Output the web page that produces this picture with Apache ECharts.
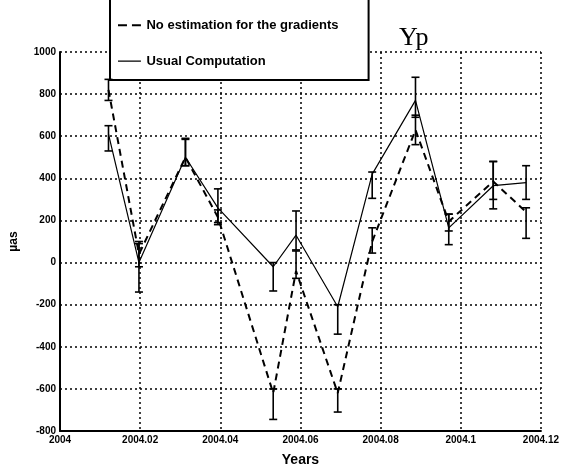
<!DOCTYPE html>
<html>
<head>
<meta charset="utf-8">
<script src="https://cdn.jsdelivr.net/npm/echarts@6/dist/echarts.min.js"></script>
<style>
html,body{margin:0;padding:0;background:#fff;}
#chart{width:562px;height:472px;}
</style>
</head>
<body>
<div id="chart"></div>
<script>
// Epochs (years)
const years = [2004.0121, 2004.0197, 2004.0313, 2004.0394, 2004.0532, 2004.0589, 2004.0693, 2004.0779, 2004.0887, 2004.0970, 2004.1081, 2004.1163];
// "No estimation for the gradients" (dashed), µas
const noEstValues = [820, 40, 500, 215, -620, -40, -620, 100, 630, 195, 385, 240];
const noEstHigh   = [870, 100, 585, 250, -600, 55, -600, 165, 700, 230, 480, 260];
const noEstLow    = [770, -20, 460, 180, -745, -75, -710, 45, 560, 150, 300, 115];
// "Usual Computation" (solid), µas
const usualValues = [610, 0, 500, 260, -20, 130, -210, 420, 770, 165, 365, 380];
const usualHigh   = [650, 90, 590, 350, 0, 245, -200, 430, 880, 230, 480, 460];
const usualLow    = [530, -140, 460, 190, -135, 60, -340, 305, 690, 85, 255, 300];
// Axis ticks
const yTicks = [-800, -600, -400, -200, 0, 200, 400, 600, 800, 1000];
const xTicks = [2004, 2004.02, 2004.04, 2004.06, 2004.08, 2004.1, 2004.12];

const seriesNames = ['No estimation for the gradients', 'Usual Computation'];

function pairs(vals) { return years.map((t, i) => [t, vals[i]]); }
function bars(lo, hi) { return years.map((t, i) => [t, lo[i], hi[i]]); }

function renderErr(params, api) {
  const t = api.value(0);
  const p1 = api.coord([t, api.value(1)]);
  const p2 = api.coord([t, api.value(2)]);
  const w = 4;
  const style = { stroke: '#000', lineWidth: 1.6 };
  return {
    type: 'group',
    children: [
      { type: 'line', shape: { x1: p1[0], y1: p1[1], x2: p2[0], y2: p2[1] }, style: style },
      { type: 'line', shape: { x1: p1[0] - w, y1: p1[1], x2: p1[0] + w, y2: p1[1] }, style: style },
      { type: 'line', shape: { x1: p2[0] - w, y1: p2[1], x2: p2[0] + w, y2: p2[1] }, style: style }
    ]
  };
}

// legend glyphs: tiny corner dots keep the path box at full icon height
const dashIcon = 'path://M0,0h0.05v0.05h-0.05z M0,6.2h9v2.2h-9z M14,6.2h9v2.2h-9z M0,14h0.05v0.05h-0.05z';
const solidIcon = 'path://M0,0h0.05v0.05h-0.05z M0,6.6h23v1.3h-23z M0,14h0.05v0.05h-0.05z';

const chart = echarts.init(document.getElementById('chart'), null, { renderer: 'canvas' });
const labelFont = { color: '#000', fontFamily: 'Liberation Sans Narrow, Liberation Sans, Arial', fontWeight: 'bold', fontSize: 10 };

chart.setOption({
  backgroundColor: '#fff',
  animation: false,
  title: {
    text: 'Yp', left: 394, top: 20,
    textStyle: { fontFamily: 'Liberation Serif, DejaVu Serif, serif', fontWeight: 'normal', fontSize: 26, color: '#000' }
  },
  grid: { left: 58, right: 17, top: 52, bottom: 41 },
  legend: {
    data: [
      { name: seriesNames[0], icon: dashIcon },
      { name: seriesNames[1], icon: solidIcon }
    ],
    orient: 'vertical',
    left: 110, top: -16,
    padding: [34, 30, 12, 8],
    itemGap: 22,
    itemWidth: 24, itemHeight: 14,
    backgroundColor: '#fff',
    borderColor: '#000', borderWidth: 2,
    textStyle: { color: '#000', fontFamily: 'Liberation Sans, Arial', fontWeight: 'bold', fontSize: 13 }
  },
  xAxis: {
    type: 'value', min: xTicks[0], max: xTicks[xTicks.length - 1], interval: 0.02,
    name: 'Years', nameLocation: 'middle', nameGap: 22,
    nameTextStyle: { color: '#000', fontFamily: 'Liberation Sans, Arial', fontWeight: 'bold', fontSize: 14 },
    axisLine: { show: true, onZero: false, lineStyle: { color: '#000', width: 2 } },
    axisTick: { show: false },
    axisLabel: { margin: 4, formatter: v => String(parseFloat(v.toFixed(2))), ...labelFont },
    splitLine: { show: true, lineStyle: { color: '#000', type: [2, 3], width: 1.5 } }
  },
  yAxis: {
    type: 'value', min: yTicks[0], max: yTicks[yTicks.length - 1], interval: 200,
    name: 'µas', nameLocation: 'middle', nameGap: 40, nameRotate: 90,
    nameTextStyle: { color: '#000', fontFamily: 'Liberation Sans, Arial', fontWeight: 'bold', fontSize: 12 },
    axisLine: { show: true, onZero: false, lineStyle: { color: '#000', width: 2 } },
    axisTick: { show: false },
    axisLabel: { margin: 4, formatter: v => String(v), ...labelFont },
    splitLine: { show: true, lineStyle: { color: '#000', type: [2, 3], width: 1.5 } }
  },
  series: [
    {
      name: seriesNames[0], type: 'line', data: pairs(noEstValues),
      symbol: 'none', z: 3,
      lineStyle: { color: '#000', width: 2, type: [7, 5] },
      itemStyle: { color: '#000' }
    },
    {
      name: seriesNames[1], type: 'line', data: pairs(usualValues),
      symbol: 'none', z: 3,
      lineStyle: { color: '#000', width: 1.2, type: 'solid' },
      itemStyle: { color: '#000' }
    },
    { type: 'custom', renderItem: renderErr, data: bars(noEstLow, noEstHigh), z: 4, encode: { x: 0, y: [1, 2] } },
    { type: 'custom', renderItem: renderErr, data: bars(usualLow, usualHigh), z: 4, encode: { x: 0, y: [1, 2] } }
  ]
});
</script>
</body>
</html>
